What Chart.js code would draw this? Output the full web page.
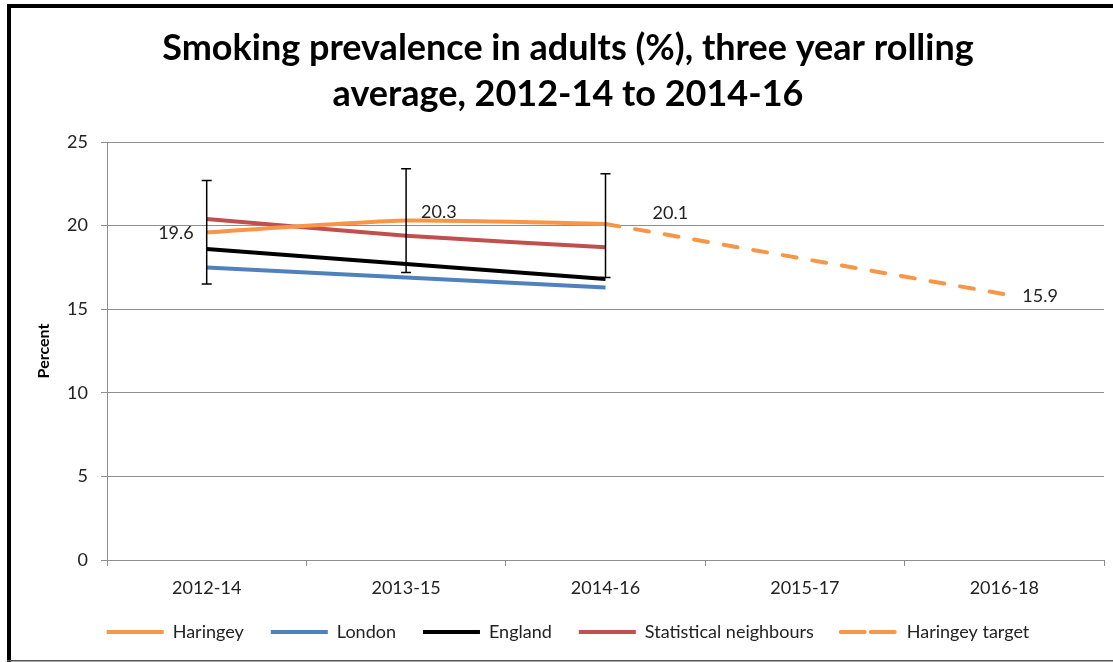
<!DOCTYPE html>
<html>
<head>
<meta charset="utf-8">
<title>Smoking prevalence in adults</title>
<script src="https://cdn.jsdelivr.net/npm/chart.js@4.4.0/dist/chart.umd.min.js"></script>
<style>
    html, body { margin: 0; padding: 0; background: #fff; }
    #wrap { width: 1113px; height: 662px; position: relative; }
</style>
</head>
<body>
<div id="wrap"><canvas id="smoking-chart"></canvas></div>
<script>
const periods = ['2012-14', '2013-15', '2014-16', '2015-17', '2016-18'];
const haringey = [19.6, 20.3, 20.1, null, null];
const london = [17.5, 16.9, 16.3, null, null];
const england = [18.6, 17.7, 16.8, null, null];
const statNeighbours = [20.4, 19.4, 18.7, null, null];
const haringeyTarget = [null, null, 20.1, 18.0, 15.9];
// confidence interval for Haringey
const haringeyLower = [16.5, 17.2, 16.9];
const haringeyUpper = [22.7, 23.4, 23.1];
const yTicks = [0, 5, 10, 15, 20, 25];

const FONT = 'Lato';
const GRID = '#8e8e8e';

// white background and the black frame round the picture
const framePlugin = {
    id: 'frame',
    beforeDraw(chart) {
        const ctx = chart.ctx;
        const w = chart.width, h = chart.height;
        ctx.save();
        ctx.fillStyle = '#fff';
        ctx.fillRect(0, 0, w, h);
        ctx.fillStyle = '#000';
        ctx.fillRect(7, 4, w - 7, 4);
        ctx.fillRect(7, 4, 4, h - 4);
        ctx.fillStyle = '#555';
        ctx.fillRect(7, h - 2, w - 7, 1.5);
        ctx.restore();
    }
};

const errorBarPlugin = {
    id: 'errorBars',
    afterDatasetsDraw(chart) {
        const ctx = chart.ctx;
        const xs = chart.scales.x, ys = chart.scales.y;
        ctx.save();
        ctx.strokeStyle = '#000';
        ctx.lineWidth = 1.5;
        haringeyLower.forEach((lo, i) => {
            const x = xs.getPixelForValue(i);
            const yLo = ys.getPixelForValue(lo);
            const yHi = ys.getPixelForValue(haringeyUpper[i]);
            ctx.beginPath();
            ctx.moveTo(x, yLo); ctx.lineTo(x, yHi);
            ctx.moveTo(x - 5, yLo); ctx.lineTo(x + 5, yLo);
            ctx.moveTo(x - 5, yHi); ctx.lineTo(x + 5, yHi);
            ctx.stroke();
        });
        ctx.restore();
    }
};

// value labels next to a few points, Excel style
const labelSpots = [
    { dataset: 0, index: 0, dx: -13, dy: 1, align: 'right' },
    { dataset: 0, index: 1, dx: 15, dy: -8, align: 'left' },
    { dataset: 0, index: 2, dx: 47, dy: -11, align: 'left' },
    { dataset: 4, index: 4, dx: 18, dy: 2, align: 'left' },
];

const valueLabelPlugin = {
    id: 'valueLabels',
    afterDatasetsDraw(chart) {
        const ctx = chart.ctx;
        ctx.save();
        ctx.font = `18px ${FONT}`;
        ctx.fillStyle = '#222';
        ctx.textBaseline = 'middle';
        labelSpots.forEach(s => {
            const pt = chart.getDatasetMeta(s.dataset).data[s.index];
            const v = chart.data.datasets[s.dataset].data[s.index];
            ctx.textAlign = s.align;
            ctx.fillText(v.toFixed(1), pt.x + s.dx, pt.y + s.dy);
        });
        ctx.restore();
    }
};

function series(label, data, color, extra) {
    return Object.assign({
        label: label,
        data: data,
        borderColor: color,
        backgroundColor: color,
        borderWidth: 4,
        pointRadius: 0,
        pointHoverRadius: 0,
        tension: 0.2,
        spanGaps: false
    }, extra || {});
}

new Chart(document.getElementById('smoking-chart'), {
    type: 'line',
    data: {
        labels: periods,
        datasets: [
            series('Haringey', haringey, '#f79646'),
            series('London', london, '#4f81bd'),
            series('England', england, '#000000'),
            series('Statistical neighbours', statNeighbours, '#c0504d'),
            series('Haringey target', haringeyTarget, '#f79646', { borderDash: [14, 16], borderCapStyle: 'round', tension: 0 })
        ]
    },
    options: {
        responsive: true,
        maintainAspectRatio: false,
        animation: false,
        layout: { padding: { top: 0, left: 32, right: 9, bottom: 11 } },
        scales: {
            x: {
                offset: true,
                grid: { offset: true, drawOnChartArea: false, drawTicks: true, tickLength: 6, color: GRID },
                border: { display: true, color: GRID, width: 1 },
                ticks: { font: { family: FONT, size: 18 }, color: '#222', padding: 11, maxRotation: 0 },
                // labels are clipped to the axis box, keep it tall enough
                afterFit(scale) { scale.height = 36; }
            },
            y: {
                min: yTicks[0],
                max: yTicks[yTicks.length - 1],
                ticks: { stepSize: yTicks[1] - yTicks[0], padding: 13, font: { family: FONT, size: 18 }, color: '#222' },
                grid: { color: GRID, tickLength: 6, drawTicks: true },
                border: { display: true, color: GRID, width: 1 },
                title: {
                    display: true,
                    text: 'Percent',
                    font: { family: FONT, size: 16, weight: 'bold' },
                    color: '#000',
                    padding: { top: 2, bottom: 0 }
                },
                afterFit(scale) { scale.width = 75; }
            }
        },
        plugins: {
            title: {
                display: true,
                text: ['Smoking prevalence in adults (%), three year rolling', 'average, 2012-14 to 2014-16'],
                font: { family: FONT, size: 36, weight: 'bold', lineHeight: '46px' },
                color: '#000',
                padding: { top: 25, bottom: 25 }
            },
            legend: {
                position: 'bottom',
                labels: {
                    boxWidth: 57,
                    boxHeight: 0,
                    padding: 27,
                    font: { family: FONT, size: 18 },
                    color: '#222'
                }
            },
            tooltip: { enabled: false }
        }
    },
    plugins: [framePlugin, errorBarPlugin, valueLabelPlugin]
});
</script>
</body>
</html>
